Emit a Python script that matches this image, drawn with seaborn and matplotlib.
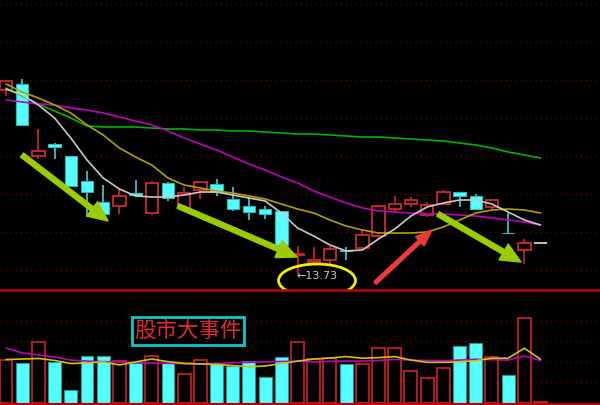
import matplotlib
matplotlib.use("Agg")
import matplotlib.pyplot as plt
from matplotlib.patches import Ellipse
import numpy as np
import pandas as pd
import seaborn as sns

# ---------------- data ----------------
opens  = [17.41, 17.54, 16.09, 16.34, 16.09, 15.59, 15.17, 15.09, 15.35, 14.95,
          15.55, 15.06, 15.42, 15.53, 15.23, 15.09, 15.03, 15.00, 14.11, 13.97,
          14.02, 14.21, 14.25, 14.50, 15.03, 15.13, 14.92, 15.13, 15.37, 15.30,
          15.08, 14.56, 14.22, 14.35]
highs  = [17.60, 17.64, 16.64, 16.36, 16.09, 15.79, 15.51, 15.43, 15.62, 15.60,
          15.57, 15.47, 15.57, 15.63, 15.47, 15.28, 15.09, 15.00, 14.30, 14.27,
          14.30, 14.29, 14.61, 15.09, 15.30, 15.27, 15.17, 15.42, 15.37, 15.34,
          15.21, 14.95, 14.45, 14.35]
lows   = [17.30, 16.71, 16.03, 16.04, 15.49, 14.90, 14.94, 14.93, 15.27, 14.91,
          15.19, 15.05, 15.24, 15.30, 15.00, 14.81, 14.83, 14.31, 13.73, 13.97,
          13.89, 14.03, 14.25, 14.43, 14.97, 15.07, 14.88, 15.13, 15.07, 15.03,
          15.03, 14.55, 13.95, 14.35]
closes = [17.60, 16.71, 16.20, 16.27, 15.49, 15.37, 14.94, 15.29, 15.31, 15.55,
          15.25, 15.35, 15.57, 15.37, 15.03, 14.98, 14.94, 14.31, 14.13, 14.01,
          14.23, 14.19, 14.52, 15.09, 15.13, 15.21, 15.11, 15.38, 15.29, 15.03,
          15.21, 14.55, 14.35, 14.35]
volumes = [20800, 19500, 29500, 20000, 6100, 22800, 22800, 20300, 19500, 22800,
           19200, 14100, 20800, 18900, 18000, 20500, 12400, 22200, 29800, 21500,
           21700, 18700, 18700, 26900, 26900, 15300, 11900, 16800, 27700, 29200,
           22300, 13500, 41400, 300]

ma5  = [17.44, 17.32, 17.12, 16.86, 16.46, 16.02, 15.66, 15.44, 15.30, 15.28,
        15.28, 15.32, 15.38, 15.38, 15.32, 15.26, 15.20, 14.96, 14.66, 14.50,
        14.32, 14.20, 14.22, 14.44, 14.64, 14.90, 15.08, 15.16, 15.22, 15.22,
        15.14, 14.98, 14.82, 14.72]
ma10 = [17.54, 17.38, 17.26, 17.12, 16.96, 16.72, 16.52, 16.26, 16.08, 15.92,
        15.66, 15.52, 15.46, 15.40, 15.36, 15.30, 15.24, 15.14, 15.04, 14.96,
        14.82, 14.70, 14.62, 14.56, 14.56, 14.56, 14.58, 14.68, 14.82, 14.96,
        15.02, 15.04, 15.02, 14.96]
ma20 = [17.22, 17.18, 17.14, 17.12, 17.06, 17.02, 16.96, 16.88, 16.80, 16.72,
        16.60, 16.46, 16.34, 16.22, 16.08, 15.94, 15.82, 15.68, 15.56, 15.40,
        15.28, 15.16, 15.06, 15.00, 14.98, 14.96, 14.94, 14.94, 14.92, 14.90,
        14.86, 14.82, 14.78, 14.72]
ma60 = [17.46, 17.30, 17.14, 17.00, 16.86, 16.70, 16.68, 16.68, 16.68, 16.66,
        16.64, 16.64, 16.62, 16.62, 16.60, 16.60, 16.58, 16.56, 16.54, 16.54,
        16.52, 16.50, 16.48, 16.48, 16.46, 16.44, 16.42, 16.40, 16.36, 16.32,
        16.26, 16.18, 16.12, 16.06]
vol_ma5 = [21100, 21300, 21600, 20600, 19100, 19400, 19900, 18400, 19900, 21300,
           20000, 19200, 18900, 18700, 18100, 17500, 17900, 19100, 20300, 21300,
           21800, 22500, 21700, 22000, 22500, 20800, 19700, 19700, 19900, 20500,
           21700, 21700, 26600, 21200]
vol_ma10 = [26700, 24300, 23300, 22300, 20800, 20300, 20000, 19900, 19600, 19400,
            19200, 19000, 18900, 19100, 19500, 19700, 19900, 20100, 20300, 19900,
            20200, 20300, 20300, 20600, 21100, 20800, 20600, 20500, 20800, 21200,
            21000, 20800, 22800, 20500]

price_grid = [13.82, 14.58, 15.34, 16.09, 16.85, 17.61, 18.37, 19.13]
vol_grid = [10000, 20000, 30000, 40000]
low_label = "←13.73"
title_box = "股市大事件"

# ---------------- style ----------------
sns.set_theme(style="dark", rc={"axes.facecolor": "black", "figure.facecolor": "black"})
plt.rcParams["font.family"] = ["Noto Sans CJK SC", "DejaVu Sans"]

RED = "#d02828"
CYAN = "#55ffff"
GRID = "#6e0000"

fig = plt.figure(figsize=(6, 4.05), dpi=100)
ax_p = fig.add_axes([0, 115 / 405, 1, 290 / 405])
ax_v = fig.add_axes([0, 1 / 405, 1, 114 / 405])

n = len(closes)
idx = np.arange(n)
df = pd.DataFrame({"i": idx, "open": opens, "high": highs, "low": lows, "close": closes,
                   "vol": volumes, "ma5": ma5, "ma10": ma10, "ma20": ma20, "ma60": ma60,
                   "vma5": vol_ma5, "vma10": vol_ma10})

for ax in (ax_p, ax_v):
    ax.set_facecolor("black")
    ax.set_xlim(-0.37, 36.67)
    ax.set_xticks([])
    for s in ax.spines.values():
        s.set_visible(False)

ax_p.set_ylim(13.42, 19.22)
ax_v.set_ylim(-735, 55150)
ax_p.set_yticks([]); ax_v.set_yticks([])

for g in price_grid:
    ax_p.axhline(g, color=GRID, lw=0.9, ls=(0, (1, 3)), zorder=0)
for g in vol_grid:
    ax_v.axhline(g, color=GRID, lw=0.9, ls=(0, (1, 3)), zorder=0)

# ---------------- candles ----------------
W = 0.77
for r in df.itertuples():
    if r.i == n - 1 and r.open == r.close == r.high == r.low:
        ax_p.hlines(r.close, r.i - 0.4, r.i + 0.4, color="#d0d0d0", lw=1.3, zorder=3)
        continue
    up = r.close > r.open
    col = RED if up else CYAN
    lo, hi = min(r.open, r.close), max(r.open, r.close)
    ax_p.vlines(r.i, r.low, r.high, color=col if up else "#3fd0d0", lw=1.2, zorder=2)
    h = max(hi - lo, 0.012)
    if up:
        ax_p.bar(r.i, h, bottom=lo, width=W, facecolor="black", edgecolor=col, lw=1.3, zorder=3)
    else:
        ax_p.bar(r.i, h, bottom=lo, width=W, facecolor=CYAN, edgecolor="#2ab8b8", lw=0.8, zorder=3)

# moving averages
sns.lineplot(data=df, x="i", y="ma60", ax=ax_p, color="#00b400", lw=1.2, zorder=4)
sns.lineplot(data=df, x="i", y="ma20", ax=ax_p, color="#c000c0", lw=1.2, zorder=4)
sns.lineplot(data=df, x="i", y="ma10", ax=ax_p, color="#b0a000", lw=1.2, zorder=4)
sns.lineplot(data=df, x="i", y="ma5", ax=ax_p, color="#c8c8c8", lw=1.2, zorder=4)

# ---------------- volume ----------------
for r in df.itertuples():
    up = r.close >= r.open
    if up:
        ax_v.bar(r.i, r.vol, width=0.8, facecolor="black", edgecolor="#c02020", lw=1.3, zorder=2)
    else:
        ax_v.bar(r.i, r.vol, width=0.8, facecolor=CYAN, edgecolor="#1f9a9a", lw=0.8, zorder=2)
sns.lineplot(data=df, x="i", y="vma10", ax=ax_v, color="#c000c0", lw=1.2, zorder=4)
sns.lineplot(data=df, x="i", y="vma5", ax=ax_v, color="#c8c800", lw=1.2, zorder=4)

for ax in (ax_p, ax_v):
    ax.set_xlabel(""); ax.set_ylabel("")
    if ax.get_legend():
        ax.get_legend().remove()

ax_v.spines["top"].set_visible(True)
ax_v.spines["top"].set_color("#c00000")
ax_v.spines["top"].set_linewidth(1.8)
ax_v.spines["bottom"].set_visible(True)
ax_v.spines["bottom"].set_color("#c00000")
ax_v.spines["bottom"].set_linewidth(1.5)

# ---------------- annotations ----------------
GREEN_A = "#9acd00"
arrow_kw = dict(arrowstyle="simple,head_width=1.1,head_length=1.2,tail_width=0.3",
                color=GREEN_A, shrinkA=0, shrinkB=0)
for tail, tip in [((0.99, 16.12), (6.30, 14.80)),
                  ((10.62, 15.10), (17.96, 14.08)),
                  ((26.67, 14.94), (31.79, 13.98))]:
    ax_p.annotate("", xy=tip, xytext=tail, arrowprops=arrow_kw, zorder=6)

ax_p.annotate("", xy=(26.30, 14.62), xytext=(22.78, 13.56),
              arrowprops=dict(arrowstyle="simple,head_width=0.75,head_length=1.0,tail_width=0.22",
                              color="#f03a3a", shrinkA=0, shrinkB=0),
              annotation_clip=False, zorder=6)

ax_p.add_patch(Ellipse((19.20, 13.61), 4.75, 0.66, fill=False, ec="#f0f000", lw=2,
                       clip_on=False, zorder=7))
ax_p.text(17.96, 13.70, low_label, color="#c8c8c8", fontsize=8, va="center", ha="left",
          family=["DejaVu Sans"], zorder=7)

ax_v.text(11.23, 35050, title_box, color="#e02828", fontsize=15.5, ha="center", va="center",
          zorder=8,
          bbox=dict(boxstyle="square,pad=0.12", fc="black", ec="#10c8c8", lw=2))

fig.savefig("out.png", dpi=100, facecolor="black")
